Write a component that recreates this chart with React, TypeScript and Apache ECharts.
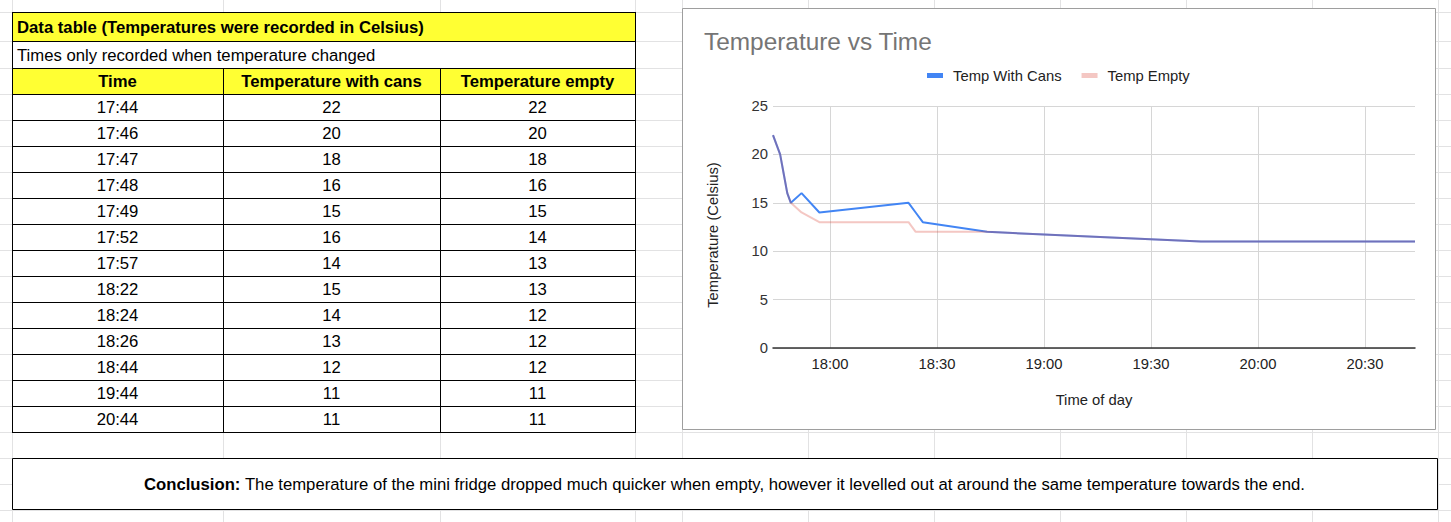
import React, { useEffect, useRef } from "react";
import * as echarts from "echarts";

// ---- data ----
const times = ["17:44", "17:46", "17:47", "17:48", "17:49", "17:52", "17:57", "18:22", "18:24", "18:26", "18:44", "19:44", "20:44"];
const tempWithCans = [22, 20, 18, 16, 15, 16, 14, 15, 14, 13, 12, 11, 11];
const tempEmpty = [22, 20, 18, 16, 15, 14, 13, 13, 12, 12, 12, 11, 11];
const seriesNames = ["Temp With Cans", "Temp Empty"];
const tableTitle = "Data table (Temperatures were recorded in Celsius)";
const tableNote = "Times only recorded when temperature changed";
const tableHeaders = ["Time", "Temperature with cans", "Temperature empty"];
const chartTitle = "Temperature vs Time";
const yAxisTitle = "Temperature (Celsius)";
const xAxisTitle = "Time of day";
const conclusionLead = "Conclusion:";
const conclusionBody = " The temperature of the mini fridge dropped much quicker when empty, however it levelled out at around the same temperature towards the end.";
const yTicks = [0, 5, 10, 15, 20, 25];
const xTickLabels = ["18:00", "18:30", "19:00", "19:30", "20:00", "20:30"];

// ---- layout ----
const W = 1451;
const H = 522;
const FONT = "'Liberation Sans', Arial, sans-serif";
const TABLE_FS = 16.7;
const sheetCols = [12, 223, 440, 635, 682, 808, 934, 1060, 1186, 1312, 1438];
const sheetRows: number[] = [12, 41, 68];
for (let y = 94; y <= 520; y += 26) sheetRows.push(y);
const tableCols = [12, 223, 440, 635];
const ROW_TOP = 94;
const ROW_H = 26;
const YELLOW = "#ffff33";

// minutes since midnight
const toMin = (t: string) => {
  const [h, m] = t.split(":").map(Number);
  return h * 60 + m;
};
const pad = (n: number) => (n < 10 ? "0" + n : "" + n);
const fmtMin = (v: number) => pad(Math.floor(v / 60)) + ":" + pad(Math.round(v % 60));

function buildGraphics() {
  const els: any[] = [];
  const Z = -10;
  sheetCols.forEach((x) =>
    els.push({ type: "line", z: Z, shape: { x1: x + 0.5, y1: 0, x2: x + 0.5, y2: H }, style: { stroke: "#e2e2e3", lineWidth: 1 } })
  );
  sheetRows.forEach((y) =>
    els.push({ type: "line", z: Z, shape: { x1: 0, y1: y + 0.5, x2: W, y2: y + 0.5 }, style: { stroke: "#e2e2e3", lineWidth: 1 } })
  );
  const tL = tableCols[0];
  const tR = tableCols[tableCols.length - 1];
  const tBottom = ROW_TOP + ROW_H * times.length;
  els.push({ type: "rect", z: Z + 1, shape: { x: tL, y: 12, width: tR - tL, height: tBottom - 12 }, style: { fill: "#fff" } });
  els.push({ type: "rect", z: Z + 1, shape: { x: tL, y: 12, width: tR - tL, height: 29 }, style: { fill: YELLOW } });
  els.push({ type: "rect", z: Z + 1, shape: { x: tL, y: 68, width: tR - tL, height: 26 }, style: { fill: YELLOW } });
  const hLines = [12, 41, 68];
  for (let i = 0; i <= times.length; i++) hLines.push(ROW_TOP + ROW_H * i);
  hLines.forEach((y) =>
    els.push({ type: "line", z: Z + 2, shape: { x1: tL, y1: y + 0.5, x2: tR + 1, y2: y + 0.5 }, style: { stroke: "#000", lineWidth: 1 } })
  );
  [tL, tR].forEach((x) =>
    els.push({ type: "line", z: Z + 2, shape: { x1: x + 0.5, y1: 12, x2: x + 0.5, y2: tBottom + 1 }, style: { stroke: "#000", lineWidth: 1 } })
  );
  tableCols.slice(1, -1).forEach((x) =>
    els.push({ type: "line", z: Z + 2, shape: { x1: x + 0.5, y1: 68, x2: x + 0.5, y2: tBottom + 1 }, style: { stroke: "#000", lineWidth: 1 } })
  );
  const txt = (text: string, x: number, y: number, align: string, bold = false) =>
    els.push({
      type: "text",
      z: Z + 3,
      x,
      y,
      style: { text, fill: "#000", font: `${bold ? "bold " : ""}${TABLE_FS}px ${FONT}`, align, verticalAlign: "middle" },
    });
  txt(tableTitle, tL + 5, 27, "left", true);
  txt(tableNote, tL + 5, 55, "left");
  const colCenter = (i: number) => (tableCols[i] + tableCols[i + 1]) / 2;
  tableHeaders.forEach((h, i) => txt(h, colCenter(i), 81, "center", true));
  times.forEach((t, r) => {
    const cy = ROW_TOP + ROW_H * r + 13;
    txt(t, colCenter(0), cy, "center");
    txt(String(tempWithCans[r]), colCenter(1), cy, "center");
    txt(String(tempEmpty[r]), colCenter(2), cy, "center");
  });
  els.push({ type: "rect", z: Z + 1, shape: { x: 12.5, y: 458.5, width: 1425, height: 51 }, style: { fill: "#fff", stroke: "#000", lineWidth: 1 } });
  els.push({
    type: "text",
    z: Z + 3,
    x: 724.5,
    y: 484,
    style: {
      text: `{b|${conclusionLead}}{n|${conclusionBody}}`,
      align: "center",
      verticalAlign: "middle",
      rich: {
        b: { fontWeight: "bold", fontSize: TABLE_FS, fontFamily: FONT, fill: "#000" },
        n: { fontSize: TABLE_FS, fontFamily: FONT, fill: "#000" },
      },
    },
  });
  els.push({ type: "rect", z: Z + 1, shape: { x: 682.5, y: 8.5, width: 753, height: 421 }, style: { fill: "#fff", stroke: "#9e9e9e", lineWidth: 1 } });
  return els;
}

export default function App() {
  const ref = useRef<HTMLDivElement>(null);
  useEffect(() => {
    if (!ref.current) return;
    const chart = echarts.init(ref.current, undefined, { renderer: "svg" });
    const labelStyle = { color: "#222", fontSize: 14.8, fontFamily: FONT };
    const xTickValues = xTickLabels.map(toMin);
    chart.setOption({
      animation: false,
      backgroundColor: "#fff",
      textStyle: { fontFamily: FONT },
      graphic: { elements: buildGraphics() },
      title: {
        text: chartTitle,
        left: 704,
        top: 29,
        padding: 0,
        textStyle: { color: "#757575", fontSize: 24.4, fontWeight: "normal", fontFamily: FONT },
      },
      legend: {
        data: seriesNames,
        left: 927,
        top: 68,
        padding: 0,
        icon: "rect",
        itemWidth: 16,
        itemHeight: 5,
        itemGap: 20,
        textStyle: { ...labelStyle, padding: [0, 0, 0, 5] },
      },
      grid: { left: 773, right: W - 1415, top: 106, bottom: H - 348, containLabel: false },
      xAxis: {
        type: "value",
        min: toMin(times[0]),
        max: toMin(times[times.length - 1]),
        name: xAxisTitle,
        nameLocation: "middle",
        nameGap: 44,
        nameTextStyle: labelStyle,
        axisLine: { show: true, lineStyle: { color: "#333", width: 1.5 } },
        axisTick: { show: false, customValues: xTickValues },
        axisLabel: {
          ...labelStyle,
          margin: 8,
          customValues: xTickValues,
          formatter: (v: number) => fmtMin(v),
        },
        splitLine: { show: true, lineStyle: { color: "#d6d6d6", width: 1 } },
      },
      yAxis: {
        type: "value",
        min: yTicks[0],
        max: yTicks[yTicks.length - 1],
        interval: yTicks[1] - yTicks[0],
        name: yAxisTitle,
        nameLocation: "middle",
        nameGap: 53,
        nameTextStyle: { ...labelStyle, padding: [0, 16, 0, 0] },
        axisLine: { show: false },
        axisTick: { show: false },
        axisLabel: { ...labelStyle, color: "#333", margin: 5 },
        splitLine: { show: true, lineStyle: { color: "#d6d6d6", width: 1 } },
      },
      series: [
        {
          name: seriesNames[0],
          type: "line",
          showSymbol: false,
          color: "#4285f4",
          lineStyle: { width: 2, color: "#4285f4" },
          data: times.map((t, i) => [toMin(t), tempWithCans[i]]),
        },
        {
          name: seriesNames[1],
          type: "line",
          showSymbol: false,
          color: "rgba(219,68,55,0.3)",
          lineStyle: { width: 2, color: "rgba(219,68,55,0.3)" },
          data: times.map((t, i) => [toMin(t), tempEmpty[i]]),
        },
      ],
    });
    return () => chart.dispose();
  }, []);
  return <div ref={ref} style={{ position: "fixed", left: 0, top: 0, width: W, height: H }} />;
}
